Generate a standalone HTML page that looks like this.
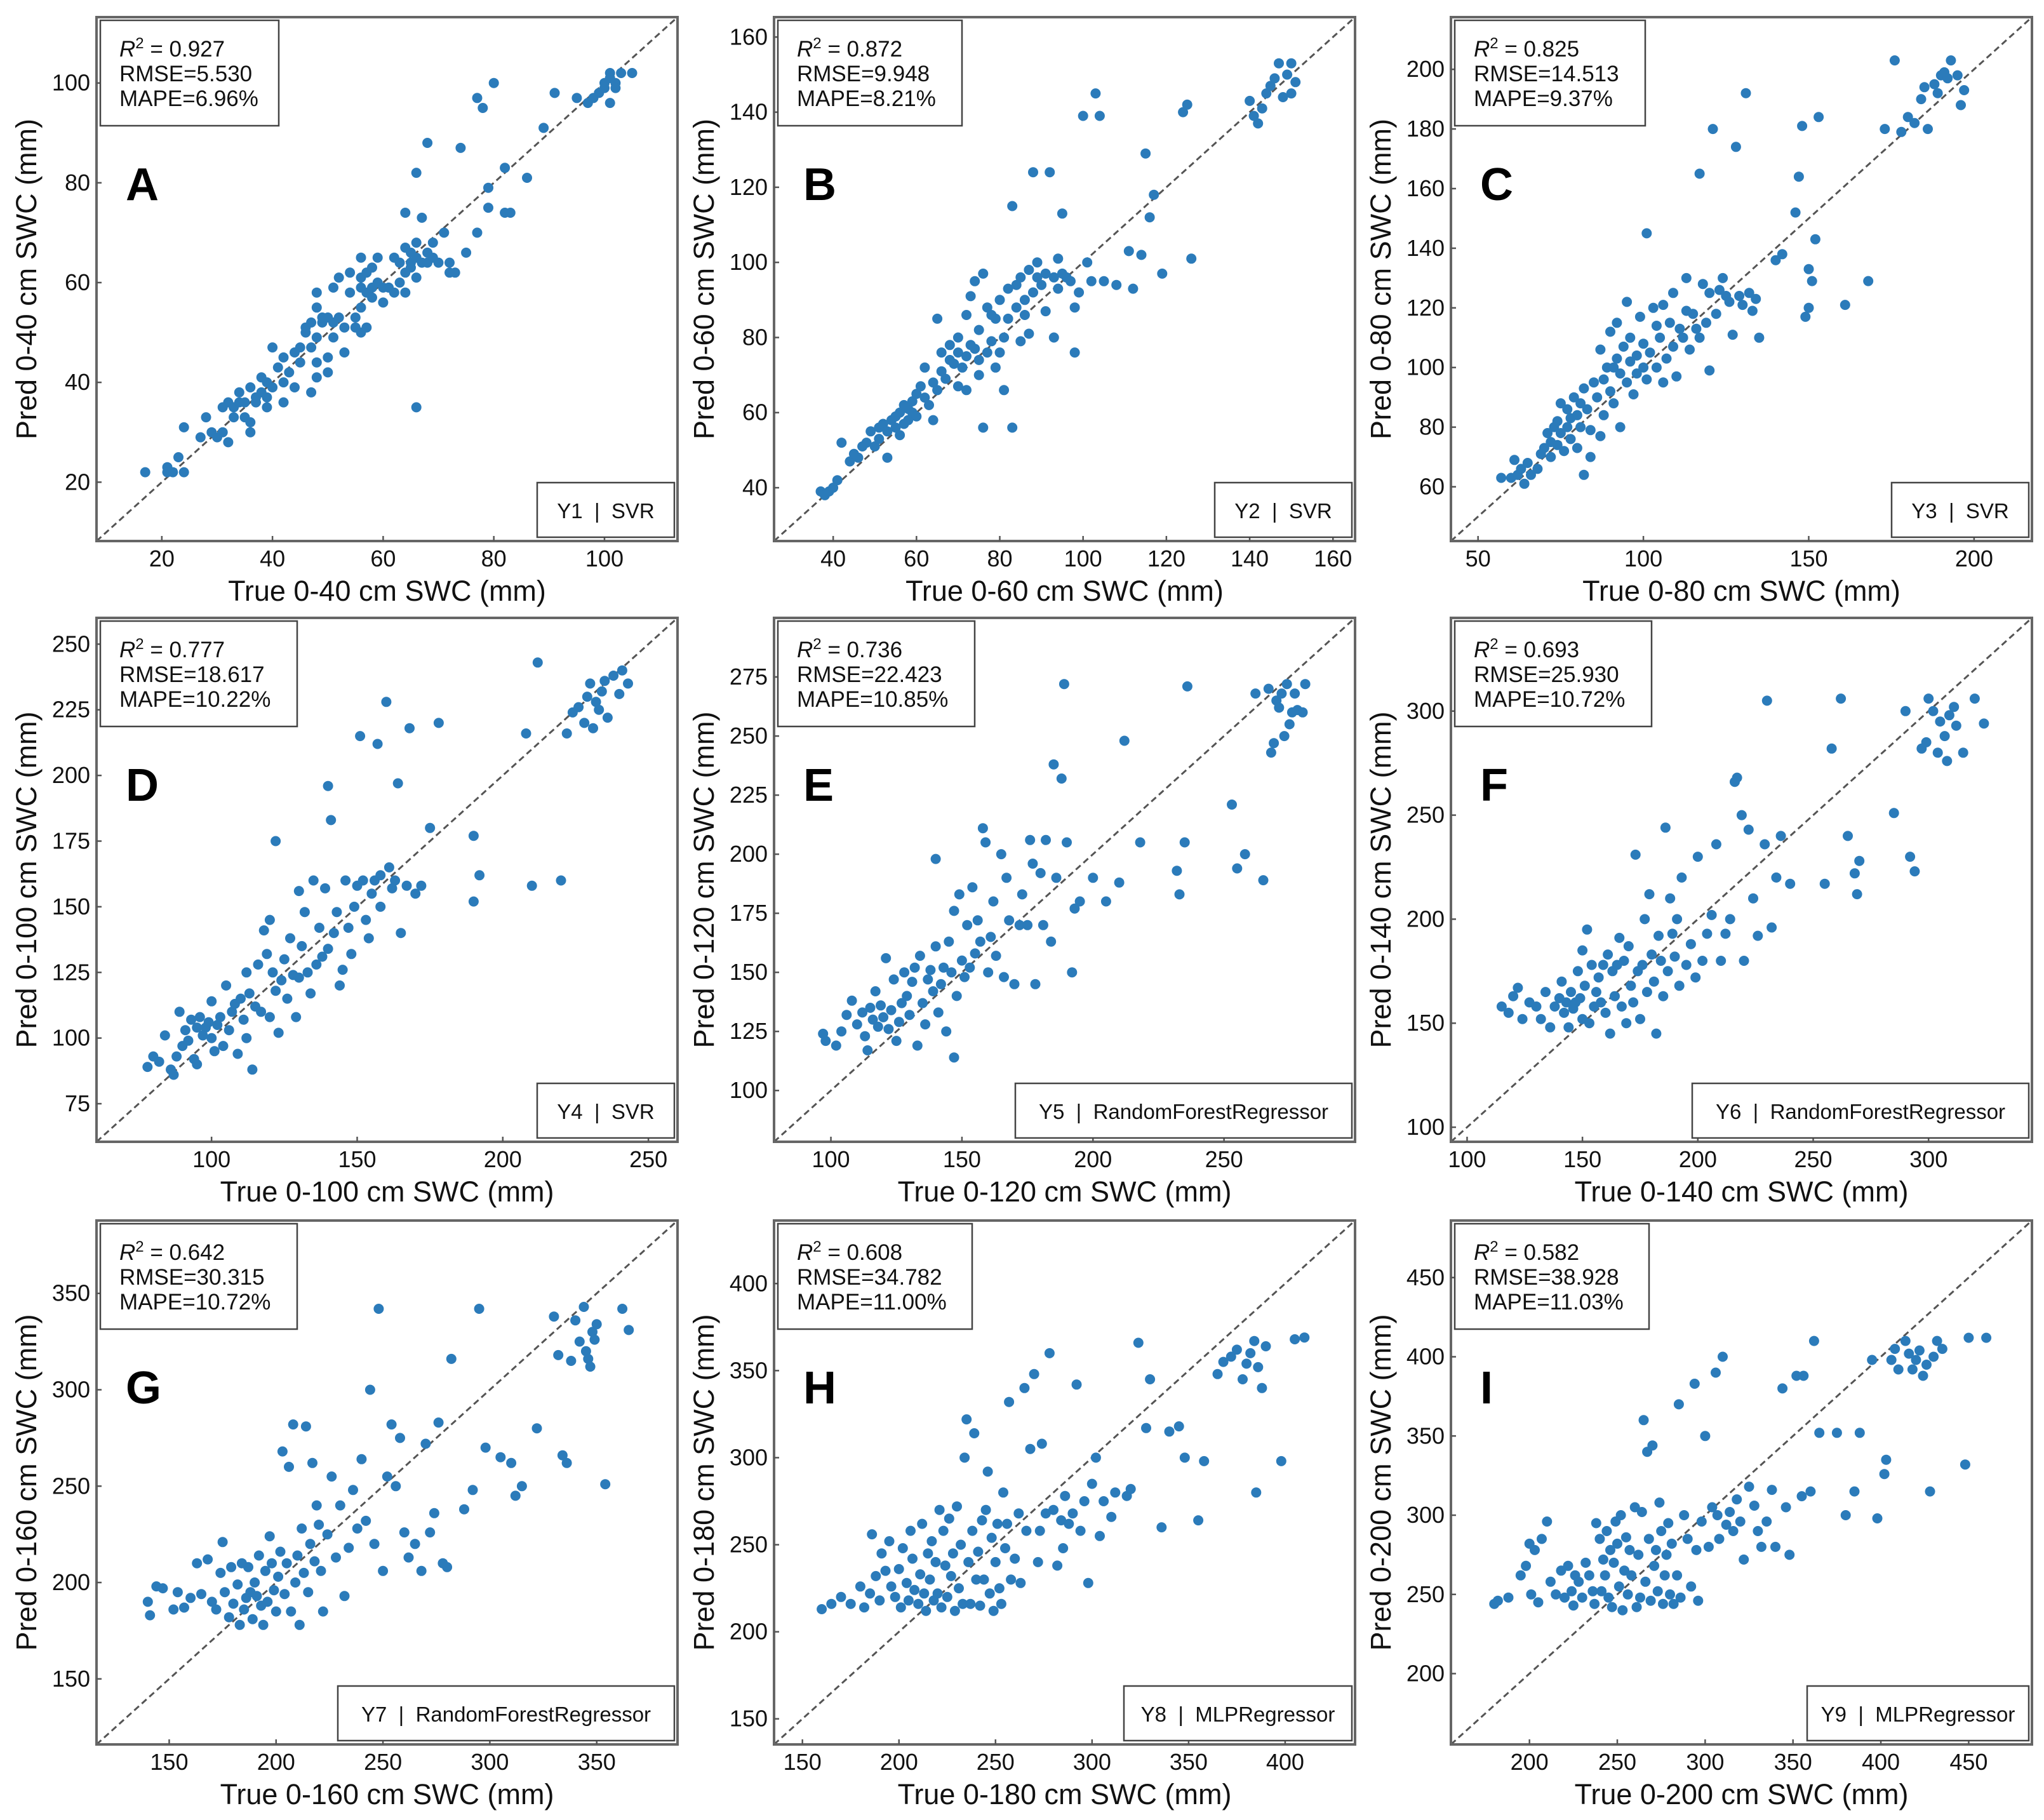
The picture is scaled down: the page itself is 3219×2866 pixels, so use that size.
<!DOCTYPE html>
<html><head><meta charset="utf-8"><style>
html,body{margin:0;padding:0;background:#fff;}
svg{display:block;font-family:"Liberation Sans",sans-serif;}
</style></head><body>
<svg id="fig" width="3219" height="2866" viewBox="0 0 3219 2866" xmlns="http://www.w3.org/2000/svg"></svg>
<script>
// ---- data arrays (top level) ----
const letters = ["A","B","C","D","E","F","G","H","I"];
const depths = [40,60,80,100,120,140,160,180,200];
const r2Labels = ["0.927","0.872","0.825","0.777","0.736","0.693","0.642","0.608","0.582"];
const rmseLabels = ["5.530","9.948","14.513","18.617","22.423","25.930","30.315","34.782","38.928"];
const mapeLabels = ["6.96%","8.21%","9.37%","10.22%","10.85%","10.72%","10.72%","11.00%","11.03%"];
const modelLabels = ["Y1  |  SVR","Y2  |  SVR","Y3  |  SVR","Y4  |  SVR","Y5  |  RandomForestRegressor","Y6  |  RandomForestRegressor","Y7  |  RandomForestRegressor","Y8  |  MLPRegressor","Y9  |  MLPRegressor"];
const axisMin = [8.2,25.8,41.8,60.5,78.3,93,116,135.3,155.3];
const axisMax = [113.2,165.3,217.5,260,300,344.8,387.8,436.2,486];
const xTicks = [[20,40,60,80,100],[40,60,80,100,120,140,160],[50,100,150,200],[100,150,200,250],[100,150,200,250],[100,150,200,250,300],[150,200,250,300,350],[150,200,250,300,350,400],[200,250,300,350,400,450]];
const yTicks = [[20,40,60,80,100],[40,60,80,100,120,140,160],[60,80,100,120,140,160,180,200],[75,100,125,150,175,200,225,250],[100,125,150,175,200,225,250,275],[100,150,200,250,300],[150,200,250,300,350],[150,200,250,300,350,400],[200,250,300,350,400,450]];

const ptsA=[[17,22],[21,23],[21,22],[22,22],[23,25],[24,22],[24,31],[27,29],[28,33],[29,30],[30,29],[31,35],[31,30],[32,36],[32,28],[33,35],[33,33],[34,36],[34,38],[35,33],[35,36],[36,32],[36,30],[36,39],[37,36],[37,37],[38,41],[38,38],[39,37],[39,40],[39,35],[40,39],[40,47],[41,43],[42,36],[42,40],[42,45],[43,42],[44,39],[44,46],[45,47],[45,44],[46,50],[46,51],[47,47],[47,52],[47,38],[48,44],[48,49],[48,55],[48,58],[48,41],[49,52],[49,53],[50,42],[50,53],[50,45],[51,49],[51,52],[51,59],[52,53],[52,61],[53,51],[53,46],[54,62],[54,58],[55,51],[55,53],[56,50],[56,55],[56,59],[56,61],[56,65],[57,62],[57,51],[57,58],[58,57],[58,59],[58,63],[59,60],[59,65],[60,56],[60,59],[61,59],[62,58],[62,65],[63,60],[63,64],[64,67],[64,74],[64,62],[64,58],[65,64],[65,66],[65,63],[66,61],[66,65],[66,82],[66,35],[66,68],[67,64],[67,73],[68,66],[68,88],[68,64],[69,68],[69,65],[70,64],[71,70],[72,64],[72,62],[73,62],[74,87],[75,66],[77,70],[77,97],[78,95],[79,75],[79,79],[80,100],[82,83],[82,74],[83,74],[86,81],[89,91],[91,98],[95,97],[97,96],[98,97],[99,98],[100,100],[100,99],[101,96],[101,102],[101,101],[102,100],[102,99],[103,102],[105,102]];
const ptsB=[[37,39],[38,38],[39,39],[40,40],[41,42],[42,52],[44,47],[45,49],[46,48],[47,51],[48,52],[49,55],[50,51],[51,56],[51,53],[52,57],[53,55],[53,48],[54,58],[55,56],[55,59],[56,60],[56,54],[57,62],[57,57],[58,58],[58,61],[59,63],[59,60],[60,65],[60,59],[61,67],[62,64],[62,72],[63,62],[64,68],[64,58],[65,85],[65,66],[66,71],[66,76],[67,69],[68,74],[68,78],[69,73],[70,76],[70,80],[70,67],[71,72],[72,75],[72,86],[72,66],[73,78],[73,91],[74,77],[74,95],[75,74],[75,70],[75,82],[76,97],[76,56],[77,76],[77,88],[78,79],[78,86],[79,72],[79,85],[80,90],[80,76],[81,80],[81,66],[82,93],[82,85],[83,115],[83,56],[84,88],[84,94],[85,96],[85,79],[86,90],[86,86],[87,98],[87,81],[88,92],[88,124],[89,96],[89,100],[90,94],[91,97],[91,87],[92,124],[93,96],[93,80],[94,93],[94,101],[95,97],[95,113],[96,96],[97,95],[98,88],[98,76],[99,92],[100,139],[101,100],[102,95],[103,145],[104,139],[105,95],[108,94],[111,103],[112,93],[114,102],[115,129],[116,112],[117,118],[119,97],[124,140],[125,142],[126,101],[140,143],[141,139],[142,137],[143,141],[144,145],[145,147],[146,149],[147,153],[148,144],[149,150],[150,153],[150,145],[151,148]];
const ptsC=[[57,63],[60,63],[61,69],[62,64],[63,66],[64,61],[65,68],[66,64],[68,66],[69,71],[70,73],[71,78],[72,75],[72,70],[73,80],[74,74],[74,82],[75,78],[75,88],[76,72],[77,80],[77,86],[78,83],[78,76],[79,90],[80,84],[80,73],[81,88],[81,80],[82,93],[82,64],[83,86],[84,79],[84,70],[85,95],[86,90],[87,77],[87,106],[88,96],[88,84],[89,100],[90,92],[90,112],[91,88],[91,100],[92,115],[92,103],[93,98],[93,80],[94,107],[95,95],[95,122],[96,110],[96,102],[97,91],[98,98],[98,104],[99,117],[100,100],[100,108],[101,145],[101,96],[102,105],[103,120],[104,114],[104,100],[105,110],[106,121],[106,95],[107,103],[108,115],[109,125],[109,107],[110,97],[111,113],[112,110],[113,130],[113,119],[114,106],[115,118],[116,113],[117,165],[117,110],[118,128],[119,115],[120,125],[120,99],[121,180],[122,118],[123,126],[124,130],[125,124],[126,122],[127,111],[128,174],[129,124],[130,121],[131,192],[132,125],[133,119],[134,123],[135,110],[140,136],[142,138],[146,152],[147,164],[148,181],[149,117],[150,133],[150,120],[151,129],[152,143],[153,184],[161,121],[168,129],[173,180],[176,203],[178,179],[180,184],[182,182],[184,190],[185,194],[186,180],[188,195],[189,192],[190,198],[191,199],[192,197],[193,203],[195,198],[196,188],[197,193]];
const ptsD=[[78,89],[80,93],[82,91],[84,101],[86,88],[87,86],[88,93],[89,110],[90,97],[91,103],[92,99],[93,107],[94,92],[95,104],[95,90],[96,108],[97,101],[98,104],[99,106],[100,100],[100,114],[101,95],[102,105],[103,108],[104,97],[105,120],[106,103],[107,110],[108,113],[109,94],[110,115],[111,107],[112,125],[112,100],[113,117],[114,88],[115,112],[116,128],[117,110],[118,141],[119,132],[120,145],[120,108],[121,125],[122,175],[122,118],[123,102],[124,122],[125,130],[126,115],[127,138],[128,124],[129,108],[130,156],[130,123],[131,135],[132,148],[133,125],[134,117],[135,160],[136,128],[137,142],[138,131],[139,157],[140,134],[140,196],[141,183],[142,140],[143,148],[144,120],[145,126],[146,160],[147,142],[148,132],[149,150],[150,158],[151,215],[152,160],[153,145],[154,138],[155,155],[156,160],[157,212],[158,150],[158,162],[160,228],[161,165],[162,157],[163,160],[164,197],[165,140],[167,158],[168,218],[170,155],[172,158],[175,180],[178,220],[190,177],[190,152],[192,162],[208,216],[210,158],[212,243],[220,160],[222,216],[224,224],[226,226],[228,220],[229,230],[230,235],[231,218],[232,228],[233,225],[234,232],[235,236],[236,222],[238,238],[240,231],[241,240],[243,235]];
const ptsE=[[97,124],[98,121],[102,119],[104,125],[106,132],[108,138],[110,128],[112,133],[113,123],[114,117],[115,135],[116,130],[117,142],[118,127],[119,136],[120,131],[121,156],[122,126],[123,134],[124,147],[125,121],[126,129],[127,137],[128,150],[129,140],[130,132],[131,146],[132,152],[133,119],[134,157],[135,137],[136,128],[137,147],[138,151],[139,142],[140,161],[140,198],[141,133],[142,145],[143,152],[144,125],[145,163],[146,150],[147,176],[147,114],[148,140],[149,183],[150,155],[151,148],[152,170],[153,152],[154,186],[155,158],[156,172],[157,163],[158,211],[159,205],[160,150],[161,165],[162,180],[163,157],[165,200],[166,148],[167,190],[168,172],[170,145],[172,170],[173,183],[175,170],[176,206],[177,196],[178,145],[180,192],[181,170],[182,206],[184,163],[185,238],[186,190],[188,232],[189,272],[190,205],[192,150],[193,177],[195,180],[200,190],[205,180],[210,188],[212,248],[218,205],[232,193],[233,183],[235,205],[236,271],[253,221],[255,194],[258,200],[262,268],[265,189],[267,270],[268,243],[269,247],[270,265],[271,262],[272,268],[273,250],[274,272],[275,255],[276,260],[277,268],[278,261],[280,260],[281,272]];
const ptsF=[[115,158],[118,155],[120,163],[122,167],[124,152],[127,160],[130,158],[132,152],[134,165],[136,148],[138,158],[140,162],[141,170],[142,155],[143,160],[144,148],[145,165],[146,157],[147,160],[148,175],[149,162],[150,152],[150,185],[151,168],[152,195],[153,150],[154,178],[155,158],[156,165],[157,172],[158,160],[159,178],[160,155],[161,183],[162,145],[163,175],[164,163],[165,178],[166,191],[167,158],[168,180],[169,150],[170,187],[171,168],[172,160],[173,231],[174,175],[175,152],[176,178],[177,200],[178,165],[179,212],[180,183],[181,170],[182,145],[183,192],[184,180],[185,163],[186,244],[187,175],[188,210],[189,193],[190,182],[191,200],[192,168],[193,220],[195,178],[197,188],[199,172],[200,230],[202,180],[204,193],[206,202],[208,236],[210,180],[212,193],[214,200],[216,266],[217,268],[219,250],[220,180],[222,243],[224,210],[226,192],[229,236],[230,305],[232,196],[234,220],[236,240],[240,217],[255,217],[258,282],[262,306],[265,240],[268,222],[269,212],[270,228],[285,251],[290,300],[292,230],[294,223],[297,282],[299,285],[300,306],[302,300],[304,280],[305,295],[307,288],[308,276],[309,298],[311,302],[312,293],[315,280],[320,306],[324,294]];
const ptsG=[[140,190],[141,183],[144,198],[147,197],[152,186],[154,195],[157,187],[160,192],[163,210],[165,194],[168,212],[170,190],[172,186],[174,205],[175,221],[176,195],[178,182],[179,208],[180,189],[182,199],[183,178],[184,210],[185,186],[186,192],[187,208],[188,195],[189,181],[190,200],[191,193],[192,214],[193,188],[194,178],[195,206],[196,190],[197,224],[198,210],[199,196],[200,185],[201,203],[202,216],[203,268],[204,194],[205,210],[206,260],[207,185],[208,282],[209,200],[210,214],[211,178],[212,228],[213,205],[214,281],[215,195],[216,220],[217,262],[218,211],[219,240],[220,230],[221,206],[222,185],[224,225],[226,255],[228,213],[230,240],[232,193],[234,218],[236,248],[238,228],[240,264],[242,232],[244,300],[246,220],[248,342],[250,206],[252,255],[254,282],[256,250],[258,275],[260,226],[262,213],[265,220],[268,206],[270,272],[272,226],[274,236],[276,283],[278,210],[280,208],[282,316],[288,238],[292,248],[295,342],[298,270],[305,265],[310,262],[312,245],[315,250],[322,280],[330,338],[332,318],[334,266],[336,262],[338,315],[340,336],[342,325],[344,343],[345,320],[346,316],[347,312],[348,330],[349,326],[350,334],[354,251],[362,342],[365,331]];
const ptsH=[[160,213],[165,216],[170,220],[175,216],[180,226],[182,214],[185,222],[186,256],[188,232],[190,218],[191,245],[193,235],[195,252],[196,226],[198,220],[200,236],[201,214],[202,248],[204,228],[205,218],[206,258],[207,242],[208,224],[210,216],[211,233],[212,262],[213,222],[214,212],[215,245],[216,230],[217,252],[218,218],[219,240],[220,222],[221,270],[222,214],[223,258],[224,238],[225,220],[226,265],[227,232],[228,245],[229,212],[230,272],[231,225],[232,250],[233,216],[234,300],[235,322],[236,240],[237,216],[238,258],[239,314],[240,230],[241,246],[242,215],[243,264],[244,230],[245,270],[246,292],[247,222],[248,254],[249,212],[250,240],[251,262],[252,225],[253,216],[254,280],[255,248],[256,262],[257,332],[258,230],[260,242],[262,268],[263,228],[265,340],[266,258],[268,305],[270,348],[272,240],[273,258],[274,308],[276,268],[278,360],[280,270],[282,238],[284,264],[285,248],[286,278],[288,262],[290,268],[292,342],[294,258],[296,275],[298,228],[300,285],[302,300],[304,255],[306,275],[310,266],[312,280],[318,278],[320,282],[324,366],[328,317],[330,345],[336,260],[340,315],[345,318],[348,300],[355,264],[358,298],[365,348],[368,355],[372,358],[375,362],[378,345],[380,354],[382,360],[384,367],[385,280],[386,352],[388,340],[390,364],[398,298],[405,368],[410,369]];
const ptsI=[[180,244],[182,246],[188,248],[195,262],[198,268],[200,282],[201,250],[203,278],[205,245],[207,285],[210,296],[212,258],[215,250],[218,265],[220,248],[222,268],[224,252],[225,243],[226,262],[228,258],[230,248],[232,270],[234,262],[236,252],[237,244],[238,295],[240,285],[241,252],[242,272],[243,262],[244,290],[245,248],[246,278],[247,242],[248,270],[249,296],[250,282],[251,255],[252,300],[253,240],[254,265],[255,286],[256,250],[257,278],[258,262],[260,305],[261,242],[262,275],[263,248],[264,302],[265,360],[266,258],[267,340],[268,285],[269,246],[270,344],[271,268],[272,278],[273,252],[274,308],[275,290],[276,244],[277,262],[278,275],[279,295],[280,250],[281,282],[282,244],[284,262],[285,370],[286,248],[288,300],[290,285],[292,255],[294,383],[295,278],[296,246],[298,296],[300,350],[302,280],[304,305],[306,390],[307,300],[308,285],[310,400],[312,294],[314,302],[316,290],[318,310],[320,296],[322,272],[325,318],[328,306],[330,290],[332,280],[335,296],[338,316],[340,280],[344,380],[346,305],[348,275],[352,388],[355,312],[356,388],[360,315],[362,410],[365,352],[375,352],[380,300],[385,315],[388,352],[395,398],[398,298],[402,326],[403,335],[406,398],[408,405],[410,392],[414,410],[416,402],[418,392],[420,398],[422,404],[424,388],[426,395],[428,315],[430,400],[432,410],[435,405],[448,332],[450,412],[460,412]];
const allPts=[ptsA,ptsB,ptsC,ptsD,ptsE,ptsF,ptsG,ptsH,ptsI];

// ---- layout ----
const NS="http://www.w3.org/2000/svg";
const svg=document.getElementById('fig');
const colL=[152,1219,2285], rowT=[27,973,1922], W=915, H=825;
const statW=[281,290,300,310,310,310,310,306,306];
const modelW=[216,216,216,216,530,530,530,359,349];
function mk(tag,attrs,parent){const e=document.createElementNS(NS,tag);for(const k in attrs)e.setAttribute(k,attrs[k]);(parent||svg).appendChild(e);return e;}

for(let p=0;p<9;p++){
  const L=colL[p%3], T=rowT[Math.floor(p/3)];
  const lo=axisMin[p], hi=axisMax[p];
  const sx=v=>L+(v-lo)/(hi-lo)*W;
  const sy=v=>T+H-(v-lo)/(hi-lo)*H;
  const g=mk('g',{});
  
  
  const d=mk('line',{x1:sx(lo),y1:sy(lo),x2:sx(hi),y2:sy(hi),stroke:'#555','stroke-width':3,'stroke-dasharray':'10,6'},g);
  
  
  const pg=mk('g',{fill:'#2b7bba'},g);
  
  
  for(const pt of allPts[p]){
    const c=mk('circle',{cx:sx(pt[0]).toFixed(1),cy:sy(pt[1]).toFixed(1),r:8},pg);
    
    
  }
  const fr=mk('rect',{x:L,y:T,width:W,height:H,fill:'none',stroke:'#666','stroke-width':4},g);
  
  
  for(const t of xTicks[p]){
    const x=sx(t);
    const tk=mk('line',{x1:x,y1:T+H,x2:x,y2:T+H-8,stroke:'#555','stroke-width':2.5},g);
    
    
    const tl=mk('text',{x:x,y:T+H+40,'font-size':36,'text-anchor':'middle',fill:'#111'},g);
    tl.textContent=t;
    
    
  }
  for(const t of yTicks[p]){
    const y=sy(t);
    const tk=mk('line',{x1:L,y1:y,x2:L+8,y2:y,stroke:'#555','stroke-width':2.5},g);
    
    
    const tl=mk('text',{x:L-10,y:y+12,'font-size':36,'text-anchor':'end',fill:'#111'},g);
    tl.textContent=t;
    
    
  }
  const xt=mk('text',{x:L+W/2,y:T+H+94,'font-size':45,'text-anchor':'middle',fill:'#111'},g);
  xt.textContent='True 0-'+depths[p]+' cm SWC (mm)';
  
  
  const yt=mk('text',{x:0,y:0,'font-size':45,'text-anchor':'middle',fill:'#111',transform:'translate('+(L-95)+','+(T+H/2)+') rotate(-90)'},g);
  yt.textContent='Pred 0-'+depths[p]+' cm SWC (mm)';
  
  
  const sb=mk('rect',{x:L+6,y:T+5,width:statW[p],height:166,fill:'#fff',stroke:'#444','stroke-width':2.5},g);
  
  
  const s1=mk('text',{x:L+36,y:T+62,'font-size':35,fill:'#111'},g);
  s1.innerHTML='<tspan font-style="italic">R</tspan><tspan font-size="24" dy="-13">2</tspan><tspan dy="13"> = '+r2Labels[p]+'</tspan>';
  
  
  const s2=mk('text',{x:L+36,y:T+101,'font-size':35,fill:'#111'},g);
  s2.textContent='RMSE='+rmseLabels[p];
  
  
  const s3=mk('text',{x:L+36,y:T+140,'font-size':35,fill:'#111'},g);
  s3.textContent='MAPE='+mapeLabels[p];
  
  
  const pl=mk('text',{x:L+46,y:T+288,'font-size':72,'font-weight':'bold',fill:'#000'},g);
  pl.textContent=letters[p];
  
  
  const mw=modelW[p];
  const mb=mk('rect',{x:L+W-5-mw,y:T+H-92,width:mw,height:86,fill:'#fff',stroke:'#444','stroke-width':2.5},g);
  
  
  const mt=mk('text',{x:L+W-5-mw/2,y:T+H-36,'font-size':33,'text-anchor':'middle',fill:'#111'},g);
  mt.setAttribute('style','white-space:pre');
  mt.textContent=modelLabels[p];
  
  
}
</script>
</body></html>
